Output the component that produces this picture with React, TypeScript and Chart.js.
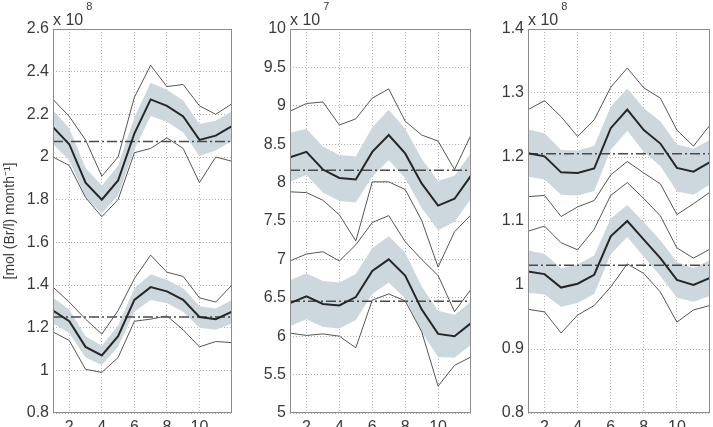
import { useEffect, useRef } from 'react';
import { Chart, registerables } from 'chart.js';

Chart.register(...registerables);

const FONT = '"Liberation Sans", Arial, sans-serif';

// months on the x axis
const months = [1, 2, 3, 4, 5, 6, 7, 8, 9, 10, 11, 12];
const xTicks = [2, 4, 6, 8, 10];

// ---- Panel 1 (x 10^8) ----
const p1Ticks = [0.8, 1, 1.2, 1.4, 1.6, 1.8, 2, 2.2, 2.4, 2.6];
const p1UpMean = [2.14, 2.06, 1.88, 1.8, 1.89, 2.11, 2.27, 2.24, 2.19, 2.08, 2.1, 2.145];
const p1UpMax = [2.27, 2.19, 2.08, 1.91, 2.0, 2.28, 2.43, 2.33, 2.34, 2.24, 2.2, 2.25];
const p1UpMin = [2.0, 1.96, 1.81, 1.72, 1.8, 2.02, 2.04, 2.09, 2.04, 1.88, 2.0, 1.98];
const p1UpSd = [0.08, 0.075, 0.07, 0.065, 0.07, 0.075, 0.078, 0.075, 0.075, 0.075, 0.07, 0.07];
const p1UpRef = 2.073;
const p1LoMean = [1.28, 1.23, 1.11, 1.07, 1.16, 1.33, 1.39, 1.37, 1.33, 1.25, 1.24, 1.275];
const p1LoMax = [1.39, 1.32, 1.24, 1.17, 1.28, 1.43, 1.54, 1.46, 1.44, 1.34, 1.32, 1.4];
const p1LoMin = [1.18, 1.14, 1.005, 0.99, 1.06, 1.23, 1.24, 1.255, 1.19, 1.11, 1.135, 1.13];
const p1LoSd = [0.06, 0.055, 0.05, 0.045, 0.05, 0.055, 0.06, 0.055, 0.055, 0.05, 0.05, 0.055];
const p1LoRef = 1.25;

// ---- Panel 2 (x 10^7) ----
const p2Ticks = [5, 5.5, 6, 6.5, 7, 7.5, 8, 8.5, 9, 9.5, 10];
const p2UpMean = [8.33, 8.4, 8.17, 8.06, 8.04, 8.4, 8.62, 8.38, 7.99, 7.7, 7.79, 8.09];
const p2UpMax = [8.93, 9.03, 9.05, 8.75, 8.83, 9.1, 9.22, 8.8, 8.62, 8.54, 8.17, 8.62];
const p2UpMin = [7.88, 7.87, 7.77, 7.58, 7.24, 8.01, 8.01, 7.91, 7.51, 6.9, 7.36, 7.58];
const p2UpSd = [0.32, 0.3, 0.3, 0.3, 0.3, 0.32, 0.33, 0.32, 0.32, 0.32, 0.3, 0.3];
const p2UpRef = 8.16;
const p2LoMean = [6.43, 6.52, 6.42, 6.4, 6.51, 6.85, 7.0, 6.79, 6.35, 6.03, 6.0, 6.17];
const p2LoMax = [6.98, 7.07, 7.1, 6.98, 7.19, 7.48, 7.57, 7.23, 7.0, 6.79, 6.32, 6.61];
const p2LoMin = [6.04, 6.01, 6.03, 6.0, 5.85, 6.47, 6.55, 6.46, 6.06, 5.35, 5.62, 5.73];
const p2LoSd = [0.3, 0.3, 0.3, 0.3, 0.3, 0.3, 0.3, 0.3, 0.3, 0.3, 0.28, 0.28];
const p2LoRef = 6.456;

// ---- Panel 3 (x 10^8) ----
const p3Ticks = [0.8, 0.9, 1, 1.1, 1.2, 1.3, 1.4];
const p3UpMean = [1.206, 1.201, 1.176, 1.175, 1.182, 1.245, 1.274, 1.242, 1.221, 1.183, 1.177, 1.192];
const p3UpMax = [1.274, 1.288, 1.263, 1.232, 1.258, 1.309, 1.339, 1.308, 1.292, 1.242, 1.217, 1.25];
const p3UpMin = [1.138, 1.14, 1.107, 1.122, 1.132, 1.172, 1.193, 1.175, 1.158, 1.11, 1.127, 1.145];
const p3UpSd = [0.037, 0.036, 0.035, 0.035, 0.035, 0.034, 0.033, 0.034, 0.035, 0.037, 0.036, 0.035];
const p3UpRef = 1.205;
const p3LoMean = [1.021, 1.017, 0.996, 1.002, 1.016, 1.076, 1.1, 1.071, 1.042, 1.008, 1.0, 1.011];
const p3LoMax = [1.084, 1.092, 1.066, 1.055, 1.087, 1.14, 1.16, 1.135, 1.108, 1.058, 1.042, 1.056];
const p3LoMin = [0.962, 0.958, 0.925, 0.953, 0.968, 0.997, 1.033, 1.018, 0.989, 0.942, 0.961, 0.968];
const p3LoSd = [0.033, 0.032, 0.03, 0.03, 0.03, 0.028, 0.025, 0.027, 0.028, 0.028, 0.026, 0.028];
const p3LoRef = 1.031;

const yTitle = '[mol (Br/l) month\u207B\u00B9]';

type Group = { mean: number[]; max: number[]; min: number[]; sd: number[]; ref: number };
type PanelCfg = {
  left: number;
  width: number;
  axisW: number;
  padRight: number;
  ticks: number[];
  exp: string;
  groups: Group[];
  title?: string;
};

const panels: PanelCfg[] = [
  {
    left: 0, width: 240, axisW: 53, padRight: 8, ticks: p1Ticks, exp: '8', title: yTitle,
    groups: [
      { mean: p1UpMean, max: p1UpMax, min: p1UpMin, sd: p1UpSd, ref: p1UpRef },
      { mean: p1LoMean, max: p1LoMax, min: p1LoMin, sd: p1LoSd, ref: p1LoRef },
    ],
  },
  {
    left: 240, width: 240, axisW: 50, padRight: 9, ticks: p2Ticks, exp: '7',
    groups: [
      { mean: p2UpMean, max: p2UpMax, min: p2UpMin, sd: p2UpSd, ref: p2UpRef },
      { mean: p2LoMean, max: p2LoMax, min: p2LoMin, sd: p2LoSd, ref: p2LoRef },
    ],
  },
  {
    left: 480, width: 233, axisW: 48, padRight: 3, ticks: p3Ticks, exp: '8',
    groups: [
      { mean: p3UpMean, max: p3UpMax, min: p3UpMin, sd: p3UpSd, ref: p3UpRef },
      { mean: p3LoMean, max: p3LoMax, min: p3LoMin, sd: p3LoSd, ref: p3LoRef },
    ],
  },
];

const H = 440;
const BAND = '#cdd8de';
const THIN = '#555555';
const THICK = '#262626';
const TEXT = '#3a3a3a';

const pts = (arr: number[]) => arr.map((v, i) => ({ x: months[i], y: v }));

function buildDatasets(groups: Group[]) {
  const ds: any[] = [];
  groups.forEach((g) => {
    ds.push({
      data: pts(g.mean.map((m, i) => m + g.sd[i])),
      borderWidth: 0, pointRadius: 0, fill: '+1', backgroundColor: BAND, borderColor: 'rgba(0,0,0,0)',
    });
    ds.push({
      data: pts(g.mean.map((m, i) => m - g.sd[i])),
      borderWidth: 0, pointRadius: 0, fill: false, borderColor: 'rgba(0,0,0,0)',
    });
    ds.push({ data: pts(g.max), borderWidth: 1, borderColor: THIN, pointRadius: 0, fill: false });
    ds.push({ data: pts(g.min), borderWidth: 1, borderColor: THIN, pointRadius: 0, fill: false });
    ds.push({ data: pts(g.mean), borderWidth: 2, borderColor: THICK, pointRadius: 0, fill: false });
    ds.push({
      data: [{ x: months[0], y: g.ref }, { x: months[months.length - 1], y: g.ref }],
      borderWidth: 1.5, borderColor: '#4a4a4a', borderDash: [10, 3, 2, 3], pointRadius: 0, fill: false,
    });
  });
  return ds;
}

const framePlugin = {
  id: 'frame',
  afterDraw(chart: any) {
    const { ctx, chartArea } = chart;
    const { left, top, right, bottom } = chartArea;
    ctx.save();
    ctx.strokeStyle = '#8c8c8c';
    ctx.lineWidth = 1;
    ctx.strokeRect(Math.round(left) + 0.5, Math.round(top) + 0.5, Math.round(right - left) - 1, Math.round(bottom - top) - 1);
    const exp = chart.options.plugins.frame.exp;
    ctx.fillStyle = TEXT;
    ctx.textBaseline = 'alphabetic';
    ctx.textAlign = 'left';
    ctx.font = `16px ${FONT}`;
    const base = 'x 10';
    ctx.fillText(base, left, 25);
    const w = ctx.measureText(base).width;
    ctx.font = `11px ${FONT}`;
    ctx.fillText(exp, left + w + 3, 10);
    ctx.restore();
  },
};

function fmt(v: number) {
  return String(Number(v.toFixed(3)));
}

function Panel({ cfg }: { cfg: PanelCfg }) {
  const ref = useRef<HTMLCanvasElement | null>(null);
  useEffect(() => {
    if (!ref.current) return;
    const ticks = cfg.ticks;
    const chart = new Chart(ref.current, {
      type: 'line',
      data: { datasets: buildDatasets(cfg.groups) },
      plugins: [framePlugin],
      options: {
        responsive: false,
        animation: false,
        devicePixelRatio: 1,
        layout: { padding: { top: 29, right: cfg.padRight, left: 0, bottom: 0 } },
        elements: { line: { tension: 0 } },
        plugins: {
          legend: { display: false },
          tooltip: { enabled: false },
          filler: { drawTime: 'beforeDatasetsDraw' },
          frame: { exp: cfg.exp },
        } as any,
        scales: {
          x: {
            type: 'linear',
            min: 1,
            max: 12,
            afterBuildTicks: (s: any) => { s.ticks = xTicks.map((v) => ({ value: v })); },
            afterFit: (s: any) => { s.height = 27; },
            grid: { color: '#b4b4b4', drawTicks: false, lineWidth: 1 },
            border: { display: false, dash: [1, 2] },
            ticks: { color: TEXT, font: { size: 16, family: FONT }, padding: 5, maxRotation: 0, callback: (v: any) => fmt(Number(v)) },
          },
          y: {
            type: 'linear',
            min: ticks[0],
            max: ticks[ticks.length - 1],
            afterBuildTicks: (s: any) => { s.ticks = ticks.map((v) => ({ value: v })); },
            afterFit: (s: any) => { s.width = cfg.axisW; },
            grid: { color: '#b4b4b4', drawTicks: false, lineWidth: 1 },
            border: { display: false, dash: [1, 2] },
            ticks: { color: TEXT, font: { size: 16, family: FONT }, padding: 4, callback: (v: any) => fmt(Number(v)) },
            title: cfg.title
              ? { display: true, text: cfg.title, color: TEXT, font: { size: 14, family: FONT }, padding: { top: 2, bottom: 0 } }
              : { display: false },
          },
        },
      } as any,
    });
    return () => chart.destroy();
  }, [cfg]);
  return (
    <canvas
      ref={ref}
      width={cfg.width}
      height={H}
      style={{ position: 'absolute', left: cfg.left, top: 0, width: cfg.width, height: H }}
    />
  );
}

export default function App() {
  return (
    <div
      style={{
        position: 'fixed', left: 0, top: 0, width: 713, height: 427, overflow: 'hidden', background: '#fff',
      }}
    >
      {panels.map((p, i) => (
        <Panel key={i} cfg={p} />
      ))}
    </div>
  );
}
